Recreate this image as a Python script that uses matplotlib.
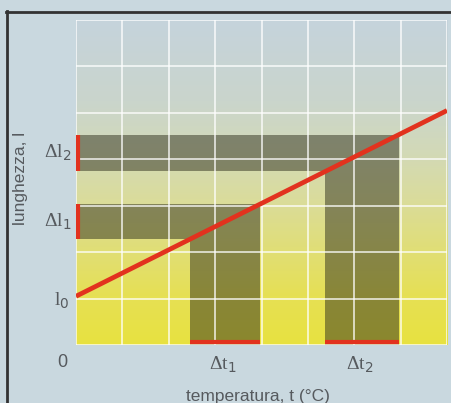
import numpy as np
import matplotlib.pyplot as plt
from matplotlib.colors import LinearSegmentedColormap

# retta l = l0 + k t, in unità di quadretti
t_line = [0.0, 8.0]
l_line = [1.05, 5.05]

# intervalli evidenziati
dt_bands = [(2.45, 3.97), (5.37, 6.96)]
dl_bands = [(2.28, 3.04), (3.74, 4.53)]

l_labels = ["Δl$_1$", "Δl$_2$"]
t_labels = ["Δt$_1$", "Δt$_2$"]

grid_x = np.arange(0, 9)
grid_y = np.arange(0, 8)

# colori dello sfondo dal basso verso l'alto
bg_stops = [0.0, 0.15, 0.3, 0.45, 0.6, 0.75, 1.0]
bg_cols = ["#e8e240", "#e6e054", "#e0de78", "#dadc9c", "#d2d9b8", "#cad5cc", "#c5d3dc"]

fig = plt.figure(figsize=(4.51, 4.03), dpi=100)
fig.patch.set_facecolor("#c9d8df")

W, H = 451.0, 403.0
ax = fig.add_axes([76 / W, (H - 345) / H, (447 - 76) / W, (345 - 20) / H])
ax.set_xlim(0, 8)
ax.set_ylim(0, 7)
ax.set_axis_off()

cmap = LinearSegmentedColormap.from_list("bg", list(zip(bg_stops, bg_cols)))
grad = np.linspace(0, 1, 256).reshape(-1, 1)
ax.imshow(grad, cmap=cmap, origin="lower", extent=[0, 8, 0, 7], aspect="auto", zorder=0)

# bande scure a L
for (t0, t1), (l0, l1) in zip(dt_bands, dl_bands):
    ax.fill_between([0, t1], l0, l1, color="#2e2e1c", alpha=0.5, lw=0, zorder=1)
    ax.fill_between([t0, t1], 0, l0, color="#2e2e1c", alpha=0.5, lw=0, zorder=1)

for gx in grid_x:
    ax.axvline(gx, color="white", lw=1.3, alpha=0.75, zorder=2)
for gy in grid_y:
    ax.axhline(gy, color="white", lw=1.3, alpha=0.75, zorder=2)

ax.plot(t_line, l_line, color="#e2321e", lw=3.4, solid_capstyle="butt", zorder=4)

# segmenti rossi sugli assi
for (l0, l1) in dl_bands:
    ax.plot([0.05, 0.05], [l0, l1], color="#e2321e", lw=3, solid_capstyle="butt", zorder=4)
for (t0, t1) in dt_bands:
    ax.plot([t0, t1], [0.07, 0.07], color="#e2321e", lw=3, solid_capstyle="butt", zorder=4)

tc = "#565a5e"
for lab, (l0, l1) in zip(l_labels, dl_bands):
    ax.text(-0.1, (l0 + l1) / 2, lab, ha="right", va="center", fontsize=14,
            color=tc, family="Liberation Serif")
ax.text(-0.15, l_line[0] - 0.1, "l$_0$", ha="right", va="center", fontsize=14,
        color=tc, family="Liberation Serif")
ax.text(-0.18, -0.38, "0", ha="right", va="center", fontsize=13, color=tc,
        family="Liberation Sans")
for lab, (t0, t1) in zip(t_labels, dt_bands):
    ax.text((t0 + t1) / 2 - 0.05, -0.42, lab, ha="center", va="center", fontsize=14,
            color=tc, family="Liberation Serif")

fig.text(21 / W, 1 - 178 / H, "lunghezza, l", rotation=90, ha="center", va="center",
         fontsize=12.5, color=tc, family="Liberation Sans")
fig.text(258 / W, 1 - 389 / H, "temperatura, t (°C)", ha="center", va="top",
         fontsize=12.5, color=tc, family="Liberation Sans")

# cornice scura a sinistra e in alto
fig.add_artist(plt.Line2D([7 / W, 7 / W], [0, 1 - 11 / H], color="#333333", lw=2,
                          transform=fig.transFigure))
fig.add_artist(plt.Line2D([6 / W, 1], [1 - 12 / H, 1 - 12 / H], color="#333333", lw=2,
                          transform=fig.transFigure))

fig.savefig("out.png", dpi=100, facecolor=fig.get_facecolor())
